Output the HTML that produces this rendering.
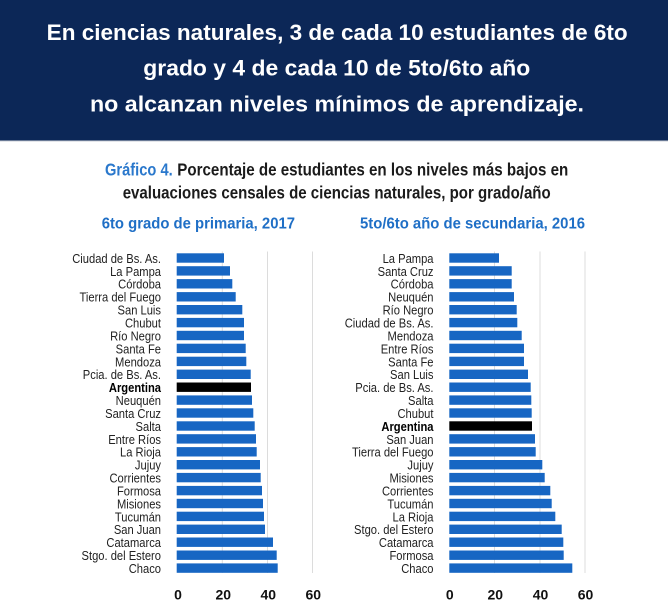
<!DOCTYPE html>
<html><head><meta charset="utf-8"><style>
html,body{margin:0;padding:0;background:#fff;}
svg{display:block;}
.h{font-family:"Liberation Sans",sans-serif;font-weight:bold;fill:#fff;font-size:22px;}
.t{font-family:"Liberation Sans",sans-serif;font-weight:bold;font-size:17.5px;fill:#1b1b1b;}
.s{font-family:"Liberation Sans",sans-serif;font-weight:bold;font-size:16px;fill:#1f6fc6;}
.l{font-family:"Liberation Sans",sans-serif;font-size:13px;fill:#222;}
.lb{font-family:"Liberation Sans",sans-serif;font-size:13px;fill:#000;font-weight:bold;}
.k{font-family:"Liberation Sans",sans-serif;font-size:14px;font-weight:bold;fill:#111;}
</style></head><body>
<svg width="668" height="606" viewBox="0 0 668 606" xmlns="http://www.w3.org/2000/svg">
<rect x="0" y="0" width="668" height="140.5" fill="#0c2757"/>
<rect x="0" y="140.5" width="668" height="1" fill="#c9cdd6"/>
<text class="h" x="46.7" y="39.8" textLength="581" lengthAdjust="spacingAndGlyphs">En ciencias naturales, 3 de cada 10 estudiantes de 6to</text>
<text class="h" x="143.3" y="75.3" textLength="387" lengthAdjust="spacingAndGlyphs">grado y 4 de cada 10 de 5to/6to año</text>
<text class="h" x="90" y="111.3" textLength="494" lengthAdjust="spacingAndGlyphs">no alcanzan niveles mínimos de aprendizaje.</text>

<text class="t" x="105" y="175.5" textLength="67.7" lengthAdjust="spacingAndGlyphs" style="fill:#2a78cc">Gráfico 4.</text>
<text class="t" x="177.3" y="175.5" textLength="391" lengthAdjust="spacingAndGlyphs">Porcentaje de estudiantes en los niveles más bajos en</text>
<text class="t" x="122.7" y="198.3" textLength="428" lengthAdjust="spacingAndGlyphs">evaluaciones censales de ciencias naturales, por grado/año</text>

<text class="s" x="101.7" y="228.3" textLength="193.3" lengthAdjust="spacingAndGlyphs">6to grado de primaria, 2017</text>
<text class="s" x="360" y="228.3" textLength="225" lengthAdjust="spacingAndGlyphs">5to/6to año de secundaria, 2016</text>

<!-- gridlines -->
<g stroke="#dcdcdc" stroke-width="1">
<line x1="222.3" y1="251.5" x2="222.3" y2="573"/>
<line x1="267.5" y1="251.5" x2="267.5" y2="573"/>
<line x1="312.5" y1="251.5" x2="312.5" y2="573"/>
<line x1="494.5" y1="251.5" x2="494.5" y2="573"/>
<line x1="540" y1="251.5" x2="540" y2="573"/>
<line x1="585" y1="251.5" x2="585" y2="573"/>
</g>

<!-- left bars -->
<g fill="#1766c3">
<rect x="176.7" y="253.3" width="47.3" height="9.4"/>
<rect x="176.7" y="266.2" width="53.3" height="9.4"/>
<rect x="176.7" y="279.1" width="55.6" height="9.4"/>
<rect x="176.7" y="292.1" width="59.0" height="9.4"/>
<rect x="176.7" y="305.0" width="65.6" height="9.4"/>
<rect x="176.7" y="317.9" width="67.3" height="9.4"/>
<rect x="176.7" y="330.8" width="67.3" height="9.4"/>
<rect x="176.7" y="343.7" width="69.0" height="9.4"/>
<rect x="176.7" y="356.7" width="69.6" height="9.4"/>
<rect x="176.7" y="369.6" width="74.0" height="9.4"/>
<rect x="176.7" y="382.5" width="74.3" height="9.4" fill="#000"/>
<rect x="176.7" y="395.4" width="75.3" height="9.4"/>
<rect x="176.7" y="408.3" width="76.6" height="9.4"/>
<rect x="176.7" y="421.3" width="78.0" height="9.4"/>
<rect x="176.7" y="434.2" width="79.3" height="9.4"/>
<rect x="176.7" y="447.1" width="80.0" height="9.4"/>
<rect x="176.7" y="460.0" width="83.3" height="9.4"/>
<rect x="176.7" y="472.9" width="84.0" height="9.4"/>
<rect x="176.7" y="485.9" width="85.3" height="9.4"/>
<rect x="176.7" y="498.8" width="86.3" height="9.4"/>
<rect x="176.7" y="511.7" width="87.3" height="9.4"/>
<rect x="176.7" y="524.6" width="88.3" height="9.4"/>
<rect x="176.7" y="537.5" width="96.3" height="9.4"/>
<rect x="176.7" y="550.5" width="100.0" height="9.4"/>
<rect x="176.7" y="563.4" width="101.0" height="9.4"/>
</g>

<!-- right bars -->
<g fill="#1766c3">
<rect x="449.3" y="253.3" width="49.7" height="9.4"/>
<rect x="449.3" y="266.2" width="62.4" height="9.4"/>
<rect x="449.3" y="279.1" width="62.4" height="9.4"/>
<rect x="449.3" y="292.1" width="64.7" height="9.4"/>
<rect x="449.3" y="305.0" width="67.4" height="9.4"/>
<rect x="449.3" y="317.9" width="68.0" height="9.4"/>
<rect x="449.3" y="330.8" width="72.4" height="9.4"/>
<rect x="449.3" y="343.7" width="74.7" height="9.4"/>
<rect x="449.3" y="356.7" width="74.7" height="9.4"/>
<rect x="449.3" y="369.6" width="78.7" height="9.4"/>
<rect x="449.3" y="382.5" width="81.4" height="9.4"/>
<rect x="449.3" y="395.4" width="82.0" height="9.4"/>
<rect x="449.3" y="408.3" width="82.4" height="9.4"/>
<rect x="449.3" y="421.3" width="82.7" height="9.4" fill="#000"/>
<rect x="449.3" y="434.2" width="85.7" height="9.4"/>
<rect x="449.3" y="447.1" width="86.4" height="9.4"/>
<rect x="449.3" y="460.0" width="93.0" height="9.4"/>
<rect x="449.3" y="472.9" width="95.4" height="9.4"/>
<rect x="449.3" y="485.9" width="101.0" height="9.4"/>
<rect x="449.3" y="498.8" width="102.4" height="9.4"/>
<rect x="449.3" y="511.7" width="106.0" height="9.4"/>
<rect x="449.3" y="524.6" width="112.4" height="9.4"/>
<rect x="449.3" y="537.5" width="114.0" height="9.4"/>
<rect x="449.3" y="550.5" width="114.4" height="9.4"/>
<rect x="449.3" y="563.4" width="123.0" height="9.4"/>
</g>

<!-- left labels -->
<g text-anchor="end">
<text class="l" transform="translate(161,262.9) scale(0.86,1)">Ciudad de Bs. As.</text>
<text class="l" transform="translate(161,275.8) scale(0.86,1)">La Pampa</text>
<text class="l" transform="translate(161,288.7) scale(0.86,1)">Córdoba</text>
<text class="l" transform="translate(161,301.7) scale(0.86,1)">Tierra del Fuego</text>
<text class="l" transform="translate(161,314.6) scale(0.86,1)">San Luis</text>
<text class="l" transform="translate(161,327.5) scale(0.86,1)">Chubut</text>
<text class="l" transform="translate(161,340.4) scale(0.86,1)">Río Negro</text>
<text class="l" transform="translate(161,353.3) scale(0.86,1)">Santa Fe</text>
<text class="l" transform="translate(161,366.3) scale(0.86,1)">Mendoza</text>
<text class="l" transform="translate(161,379.2) scale(0.86,1)">Pcia. de Bs. As.</text>
<text class="lb" transform="translate(161,392.1) scale(0.86,1)">Argentina</text>
<text class="l" transform="translate(161,405.0) scale(0.86,1)">Neuquén</text>
<text class="l" transform="translate(161,417.9) scale(0.86,1)">Santa Cruz</text>
<text class="l" transform="translate(161,430.9) scale(0.86,1)">Salta</text>
<text class="l" transform="translate(161,443.8) scale(0.86,1)">Entre Ríos</text>
<text class="l" transform="translate(161,456.7) scale(0.86,1)">La Rioja</text>
<text class="l" transform="translate(161,469.6) scale(0.86,1)">Jujuy</text>
<text class="l" transform="translate(161,482.5) scale(0.86,1)">Corrientes</text>
<text class="l" transform="translate(161,495.5) scale(0.86,1)">Formosa</text>
<text class="l" transform="translate(161,508.4) scale(0.86,1)">Misiones</text>
<text class="l" transform="translate(161,521.3) scale(0.86,1)">Tucumán</text>
<text class="l" transform="translate(161,534.2) scale(0.86,1)">San Juan</text>
<text class="l" transform="translate(161,547.1) scale(0.86,1)">Catamarca</text>
<text class="l" transform="translate(161,560.1) scale(0.86,1)">Stgo. del Estero</text>
<text class="l" transform="translate(161,573.0) scale(0.86,1)">Chaco</text>
</g>

<!-- right labels -->
<g text-anchor="end">
<text class="l" transform="translate(433.5,262.9) scale(0.86,1)">La Pampa</text>
<text class="l" transform="translate(433.5,275.8) scale(0.86,1)">Santa Cruz</text>
<text class="l" transform="translate(433.5,288.7) scale(0.86,1)">Córdoba</text>
<text class="l" transform="translate(433.5,301.7) scale(0.86,1)">Neuquén</text>
<text class="l" transform="translate(433.5,314.6) scale(0.86,1)">Río Negro</text>
<text class="l" transform="translate(433.5,327.5) scale(0.86,1)">Ciudad de Bs. As.</text>
<text class="l" transform="translate(433.5,340.4) scale(0.86,1)">Mendoza</text>
<text class="l" transform="translate(433.5,353.3) scale(0.86,1)">Entre Ríos</text>
<text class="l" transform="translate(433.5,366.3) scale(0.86,1)">Santa Fe</text>
<text class="l" transform="translate(433.5,379.2) scale(0.86,1)">San Luis</text>
<text class="l" transform="translate(433.5,392.1) scale(0.86,1)">Pcia. de Bs. As.</text>
<text class="l" transform="translate(433.5,405.0) scale(0.86,1)">Salta</text>
<text class="l" transform="translate(433.5,417.9) scale(0.86,1)">Chubut</text>
<text class="lb" transform="translate(433.5,430.9) scale(0.86,1)">Argentina</text>
<text class="l" transform="translate(433.5,443.8) scale(0.86,1)">San Juan</text>
<text class="l" transform="translate(433.5,456.7) scale(0.86,1)">Tierra del Fuego</text>
<text class="l" transform="translate(433.5,469.6) scale(0.86,1)">Jujuy</text>
<text class="l" transform="translate(433.5,482.5) scale(0.86,1)">Misiones</text>
<text class="l" transform="translate(433.5,495.5) scale(0.86,1)">Corrientes</text>
<text class="l" transform="translate(433.5,508.4) scale(0.86,1)">Tucumán</text>
<text class="l" transform="translate(433.5,521.3) scale(0.86,1)">La Rioja</text>
<text class="l" transform="translate(433.5,534.2) scale(0.86,1)">Stgo. del Estero</text>
<text class="l" transform="translate(433.5,547.1) scale(0.86,1)">Catamarca</text>
<text class="l" transform="translate(433.5,560.1) scale(0.86,1)">Formosa</text>
<text class="l" transform="translate(433.5,573.0) scale(0.86,1)">Chaco</text>
</g>

<!-- tick labels -->
<g text-anchor="middle">
<text class="k" x="178" y="599.5">0</text>
<text class="k" x="223.3" y="599.5">20</text>
<text class="k" x="268.3" y="599.5">40</text>
<text class="k" x="313.3" y="599.5">60</text>
<text class="k" x="449.8" y="599.5">0</text>
<text class="k" x="495.3" y="599.5">20</text>
<text class="k" x="540.5" y="599.5">40</text>
<text class="k" x="585.5" y="599.5">60</text>
</g>
</svg>
</body></html>
